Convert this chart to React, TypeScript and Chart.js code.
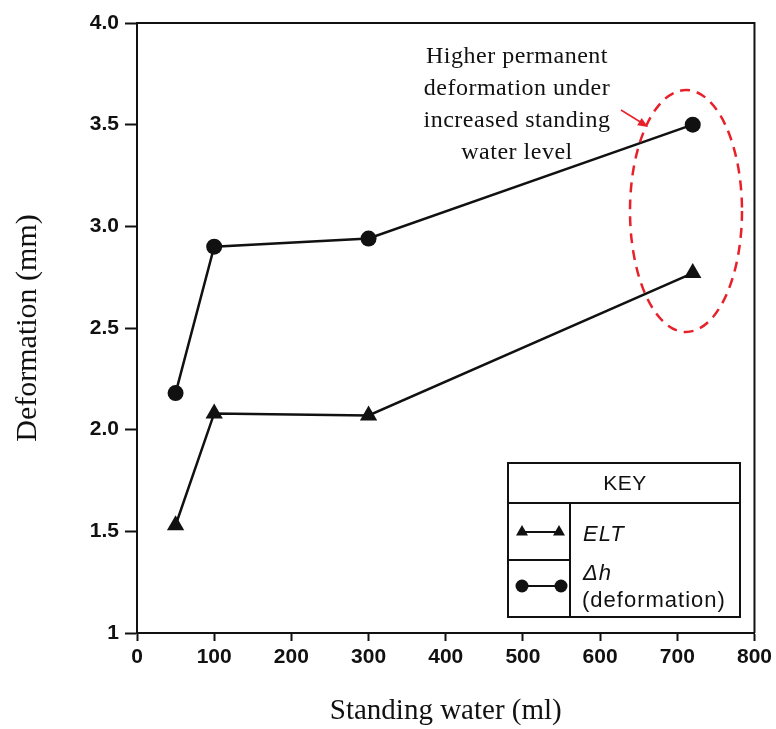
import React, { useEffect, useRef } from "react";
import { Chart, registerables } from "chart.js";

Chart.register(...registerables);

const xValues = [50, 100, 300, 720];
const eltValues = [1.53, 2.08, 2.07, 2.77];
const dhValues = [2.18, 2.9, 2.94, 3.5];
const annotationLines = [
  "Higher permanent",
  "deformation under",
  "increased standing",
  "water level",
];

const overlayPlugin = {
  id: "overlay",
  afterDraw(chart: any) {
    const ctx = chart.ctx;
    const { left, top, right, bottom } = chart.chartArea;
    ctx.save();
    // top & right frame
    ctx.strokeStyle = "#111";
    ctx.lineWidth = 2;
    ctx.beginPath();
    ctx.moveTo(left, top);
    ctx.lineTo(right, top);
    ctx.lineTo(right, bottom);
    ctx.stroke();

    // KEY box
    const bx0 = 508, bx1 = 740, by0 = 463, by1 = 617;
    const hy = 503, dx = 570, ly = 560;
    ctx.lineWidth = 2;
    ctx.strokeStyle = "#111";
    ctx.fillStyle = "#fff";
    ctx.fillRect(bx0, by0, bx1 - bx0, by1 - by0);
    ctx.strokeRect(bx0, by0, bx1 - bx0, by1 - by0);
    ctx.beginPath();
    ctx.moveTo(bx0, hy);
    ctx.lineTo(bx1, hy);
    ctx.moveTo(dx, hy);
    ctx.lineTo(dx, by1);
    ctx.moveTo(bx0, ly);
    ctx.lineTo(dx, ly);
    ctx.stroke();

    ctx.fillStyle = "#111";
    ctx.letterSpacing = "0.5px";
    ctx.font = "21px 'Liberation Sans', Arial, sans-serif";
    ctx.textAlign = "center";
    ctx.textBaseline = "middle";
    ctx.fillText("KEY", (bx0 + bx1) / 2 + 1, 484);

    // triangle sample
    const ty = 532;
    ctx.lineWidth = 2;
    ctx.beginPath();
    ctx.moveTo(523, ty);
    ctx.lineTo(558, ty);
    ctx.stroke();
    const tri = (cx: number, cy: number, s: number) => {
      ctx.beginPath();
      ctx.moveTo(cx, cy - s);
      ctx.lineTo(cx + s, cy + s * 0.75);
      ctx.lineTo(cx - s, cy + s * 0.75);
      ctx.closePath();
      ctx.fill();
    };
    tri(522, ty - 1, 6);
    tri(559, ty - 1, 6);

    // circle sample
    const cy = 586;
    ctx.beginPath();
    ctx.moveTo(523, cy);
    ctx.lineTo(560, cy);
    ctx.stroke();
    ctx.beginPath();
    ctx.arc(522, cy, 6.5, 0, Math.PI * 2);
    ctx.fill();
    ctx.beginPath();
    ctx.arc(561, cy, 6.5, 0, Math.PI * 2);
    ctx.fill();

    ctx.textAlign = "left";
    ctx.letterSpacing = "1px";
    ctx.font = "italic 22px 'Liberation Sans', Arial, sans-serif";
    ctx.fillText("ELT", 583, 535);
    ctx.fillText("\u0394h", 583, 574);
    ctx.font = "22px 'Liberation Sans', Arial, sans-serif";
    ctx.fillText("(deformation)", 582, 601);

    // annotation text
    ctx.fillStyle = "#111";
    ctx.letterSpacing = "0.5px";
    ctx.font = "24px 'Liberation Serif', 'Times New Roman', serif";
    ctx.textAlign = "center";
    annotationLines.forEach((t, i) => {
      ctx.fillText(t, 517, 57 + i * 32);
    });
    ctx.letterSpacing = "0px";

    // red dashed ellipse
    ctx.strokeStyle = "#e8202a";
    ctx.lineWidth = 2.5;
    ctx.setLineDash([10, 7]);
    ctx.beginPath();
    ctx.ellipse(686, 211, 56, 121, 0, 0, Math.PI * 2);
    ctx.stroke();
    ctx.setLineDash([]);

    // red arrow
    ctx.lineWidth = 1.5;
    ctx.beginPath();
    ctx.moveTo(621, 110);
    ctx.lineTo(642, 123);
    ctx.stroke();
    ctx.fillStyle = "#e8202a";
    const ax = 648, ay = 127;
    const ang = Math.atan2(ay - 110, ax - 621);
    ctx.beginPath();
    ctx.moveTo(ax, ay);
    ctx.lineTo(ax - 11 * Math.cos(ang - 0.4), ay - 11 * Math.sin(ang - 0.4));
    ctx.lineTo(ax - 11 * Math.cos(ang + 0.4), ay - 11 * Math.sin(ang + 0.4));
    ctx.closePath();
    ctx.fill();

    ctx.restore();
  },
};

export default function App() {
  const ref = useRef<HTMLCanvasElement>(null);
  useEffect(() => {
    document.body.style.margin = "0";
    const tickFont = { family: "'Liberation Sans', Arial, sans-serif", size: 21, weight: "bold" };
    const chart = new Chart(ref.current as HTMLCanvasElement, {
      type: "line",
      data: {
        datasets: [
          {
            label: "Δh (deformation)",
            data: xValues.map((x, i) => ({ x, y: dhValues[i] })),
            borderColor: "#111",
            backgroundColor: "#111",
            borderWidth: 2.5,
            pointStyle: "circle",
            pointRadius: 8,
            pointBorderWidth: 0,
          },
          {
            label: "ELT",
            data: xValues.map((x, i) => ({ x, y: eltValues[i] })),
            borderColor: "#111",
            backgroundColor: "#111",
            borderWidth: 2.5,
            pointStyle: "triangle",
            pointRadius: 10,
            pointBorderWidth: 0,
          },
        ],
      },
      options: {
        responsive: false,
        animation: false,
        layout: { padding: { top: 23, right: 21, left: 0, bottom: 0 } },
        plugins: { legend: { display: false }, tooltip: { enabled: false } },
        scales: {
          x: {
            type: "linear",
            min: 0,
            max: 800,
            ticks: {
              stepSize: 100,
              color: "#111",
              font: tickFont,
              padding: 4,
            },
            grid: { drawOnChartArea: false, drawTicks: true, tickLength: 8, color: "#111", tickWidth: 2 },
            border: { display: true, color: "#111", width: 2 },
            title: {
              display: true,
              text: "Standing water (ml)",
              color: "#111",
              font: { family: "'Liberation Serif', 'Times New Roman', serif", size: 29 },
              padding: { top: 0, bottom: 0 },
            },
            afterFit: (s: any) => {
              s.height = 96;
            },
          },
          y: {
            type: "linear",
            min: 1,
            max: 4,
            ticks: {
              stepSize: 0.5,
              color: "#111",
              font: tickFont,
              padding: 6,
              callback: (v: any) => (v === 1 ? "1" : Number(v).toFixed(1)),
            },
            grid: { drawOnChartArea: false, drawTicks: true, tickLength: 12, color: "#111", tickWidth: 2 },
            border: { display: true, color: "#111", width: 2 },
            title: {
              display: true,
              text: "Deformation (mm)",
              color: "#111",
              font: { family: "'Liberation Serif', 'Times New Roman', serif", size: 30 },
              padding: { top: 10, bottom: 0 },
            },
            afterFit: (s: any) => {
              s.width = 137;
            },
          },
        },
      },
      plugins: [overlayPlugin],
    } as any);
    return () => chart.destroy();
  }, []);
  return (
    <div style={{ width: 776, height: 729, background: "#fff" }}>
      <canvas ref={ref} width={776} height={729} />
    </div>
  );
}
